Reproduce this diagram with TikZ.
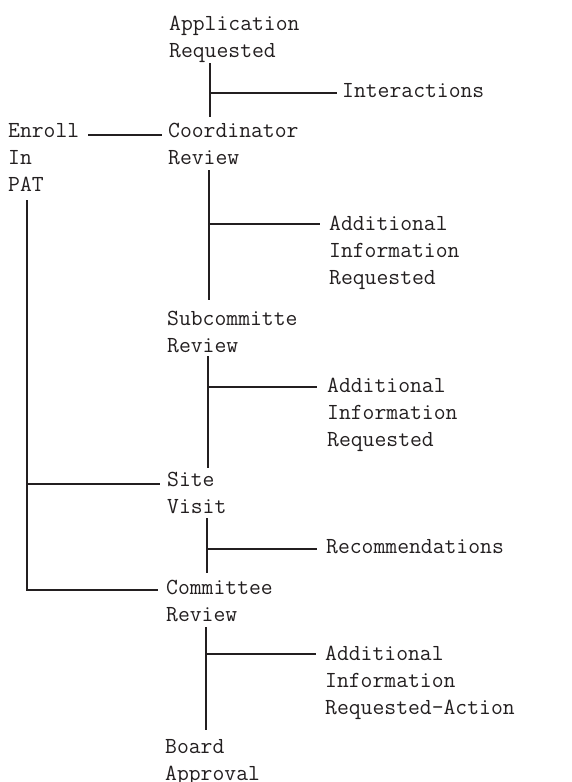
\documentclass[tikz,border=0pt]{standalone}
\usetikzlibrary{calc}
\definecolor{ink}{RGB}{35,31,32}
\begin{document}
\begin{tikzpicture}[x=1pt,y=-1pt,
  lbl/.style={anchor=base west,inner sep=0pt,align=left,text=ink,
    font=\fontsize{23}{27}\selectfont\ttfamily},
  conn/.style={draw=ink,line width=2.3pt}]
\useasboundingbox (0,0) rectangle (572,782);
% nodes (base = baseline of last line)
\node[lbl] (app) at (169,57) {Application\\Requested};
\node[lbl] (inter) at (342,97) {Interactions};
\node[lbl] (enroll) at (8,191) {Enroll\\In\\PAT};
\node[lbl] (coord) at (168,164) {Coordinator\\Review};
\node[lbl] (add1) at (329,284) {Additional\\Information\\Requested};
\node[lbl] (sub) at (167,352) {Subcommitte\\Review};
\node[lbl] (add2) at (327,446) {Additional\\Information\\Requested};
\node[lbl] (site) at (167,513) {Site\\Visit};
\node[lbl] (rec) at (326,553) {Recommendations};
\node[lbl] (comm) at (166,621) {Committee\\Review};
\node[lbl] (add3) at (325,714) {Additional\\Information\\Requested-Action};
\node[lbl] (board) at (165,780) {Board\\Approval};
% junctions
\coordinate (j1) at (210,93);
\coordinate (j2) at (209,224);
\coordinate (j3) at (208,387);
\coordinate (j4) at (207,549);
\coordinate (j5) at (206,654);
\coordinate (lsite) at (27,484);
\coordinate (lcorner) at (27,590);
% main trunk
\draw[conn] ($(app.base west)+(41,6)$) -- ($(coord.base west)+(42,-47)$);
\draw[conn] ($(coord.base west)+(41,6)$) -- ($(sub.base west)+(42,-52)$);
\draw[conn] ($(sub.base west)+(41,4)$) -- ($(site.base west)+(41,-45)$);
\draw[conn] ($(site.base west)+(40,5)$) -- ($(comm.base west)+(41,-48)$);
\draw[conn] ($(comm.base west)+(40,6)$) -- ($(board.base west)+(41,-50)$);
% branches
\draw[conn] (j1) -- ($(inter.base west)+(-5,-4)$);
\draw[conn] (j2) -- ($(add1.base west)+(-9,-60)$);
\draw[conn] (j3) -- ($(add2.base west)+(-10,-59)$);
\draw[conn] (j4) -- ($(rec.base west)+(-9,-4)$);
\draw[conn] (j5) -- ($(add3.base west)+(-9,-60)$);
% enroll links
\draw[conn] ($(enroll.base west)+(80,-56)$) -- ($(coord.base west)+(-6,-29)$);
\draw[conn] ($(enroll.base west)+(19,9)$) -- (lcorner) -- ($(comm.base west)+(-8,-31)$);
\draw[conn] (lsite) -- ($(site.base west)+(-7,-29)$);
\end{tikzpicture}
\end{document}
